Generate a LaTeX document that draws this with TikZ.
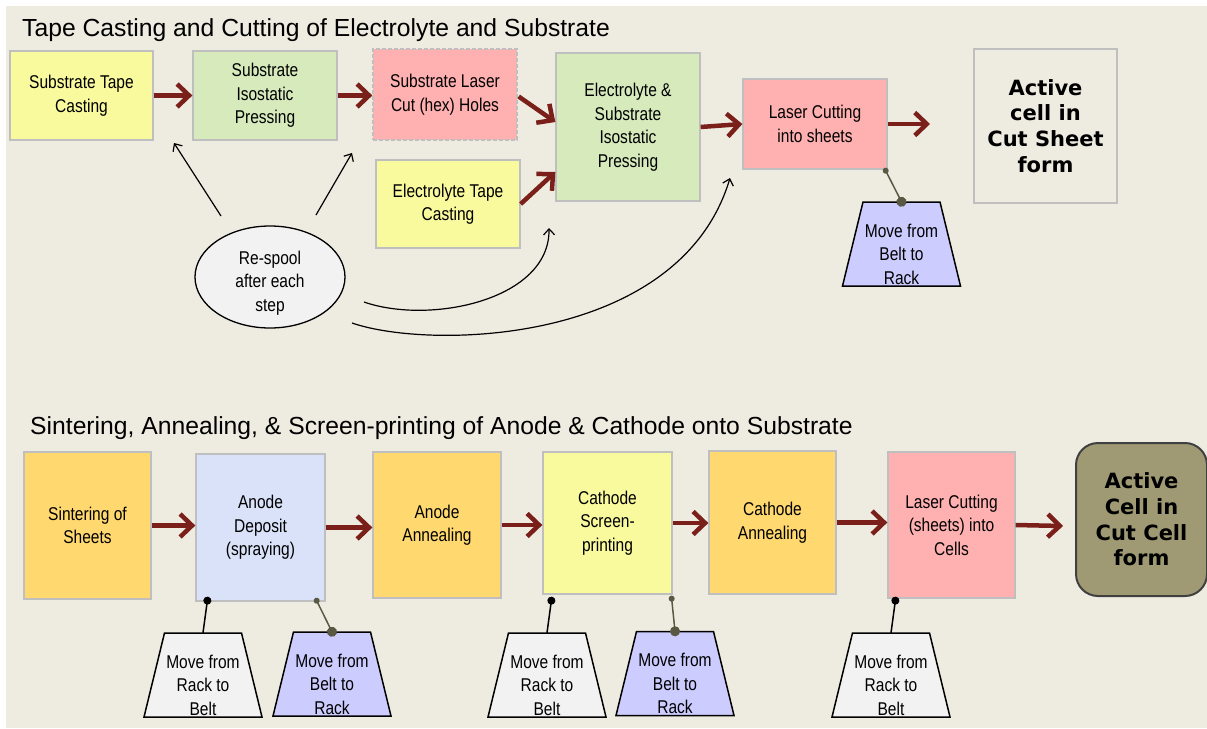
\documentclass[tikz,border=0pt]{standalone}
\usepackage{fontspec}
\setmainfont{Liberation Sans}
\newfontfamily\narrowfont{Liberation Sans}[FakeStretch=0.84]
\newfontfamily\heavyfont{DejaVu Sans}
\usetikzlibrary{arrows.meta,shapes.geometric,calc}
\definecolor{bg}{HTML}{EEECE1}
\definecolor{cyellow}{HTML}{F9F99E}
\definecolor{cgreen}{HTML}{D6EABC}
\definecolor{cpink}{HTML}{FFB0B0}
\definecolor{corange}{HTML}{FFD970}
\definecolor{cblue}{HTML}{DAE2F9}
\definecolor{clav}{HTML}{CCCCFF}
\definecolor{cwhite}{HTML}{F2F2F2}
\definecolor{colive}{HTML}{9F9A74}
\definecolor{boxgray}{HTML}{BFBFBF}
\definecolor{flowred}{HTML}{7B1F1A}
\definecolor{linkolive}{HTML}{595943}
\newcommand\shifted[2]{\raisebox{#1}[0pt][0pt]{\begin{tabular}{@{}c@{}}#2\end{tabular}}}
% trapezoid: name, position, fill colour, text
\newcommand\trapnode[4]{%
  \begin{scope}[shift={#2}]
    \filldraw[fill=#3, draw=black, line width=1.5pt, line join=miter]
      (-59,42) -- (-38.5,-42) -- (38.5,-42) -- (59,42) -- cycle;
  \end{scope}
  \node[traptext] (#1) at #2 {\shifted{-16.5pt}{#4}};}
\tikzset{
  box/.style={draw=boxgray, line width=1.3pt, align=center, inner sep=0pt,
    font=\narrowfont\fontsize{18.5}{23.5}\selectfont, text=black},
  boldbox/.style={box, font=\heavyfont\bfseries\fontsize{21}{25.7}\selectfont},
  traptext/.style={rectangle, minimum width=118pt, minimum height=84pt, inner sep=0pt,
    font=\narrowfont\fontsize{18.5}{23.5}\selectfont},
  flow/.style={draw=flowred, line width=4.5pt, -{Straight Barb[length=12pt,width=23pt]}},
  thinarr/.style={draw=black, line width=1.2pt, -{Straight Barb[length=6pt,width=11pt]}},
  linkdark/.style={draw=black, line width=1.5pt, {Circle[length=8pt]}-, shorten <=-4pt},
  linkol/.style={draw=linkolive, line width=1.5pt, {Circle[length=6pt]}-{Circle[length=10pt]},
    shorten <=-3pt, shorten >=-5pt},
  title/.style={anchor=base west, inner sep=0pt, font=\fontsize{24.7}{30}\selectfont}
}
\begin{document}
\begin{tikzpicture}[x=1pt,y=-1pt]
\useasboundingbox (0,0) rectangle (1207,728);
\fill[white] (0,0) rectangle (1207,728);
\fill[bg] (6,6) rectangle (1207,728);

% ---------- top section ----------
\node[title] (t1title) at (22,36) {Tape Casting and Cutting of Electrolyte and Substrate};

\node[box, fill=cyellow, minimum width=143pt, minimum height=89pt] (n1) at (81.5,95.5) {Substrate Tape\\Casting};
\node[box, fill=cgreen, minimum width=144pt, minimum height=89pt] (n2) at (265,95.5) {Substrate\\Isostatic\\Pressing};
\node[box, fill=cpink, dash pattern=on 4pt off 2pt, minimum width=144pt, minimum height=91pt] (n3) at (445,94.5) {Substrate Laser\\Cut (hex) Holes};
\node[box, fill=cyellow, minimum width=144pt, minimum height=88pt] (n4) at (448,204) {Electrolyte Tape\\Casting};
\node[box, fill=cgreen, minimum width=144pt, minimum height=148pt] (n5) at (628,127) {Electrolyte \&\\Substrate\\Isostatic\\Pressing};
\node[box, fill=cpink, minimum width=144pt, minimum height=90pt] (n6) at (815,124) {Laser Cutting\\into sheets};
\node[boldbox, fill=bg, minimum width=143pt, minimum height=154pt] (n7) at (1045.5,126) {Active\\cell in\\Cut Sheet\\form};
\trapnode{t0}{(901.5,244)}{clav}{Move from\\Belt to\\Rack}

\node[ellipse, draw=black, line width=1.3pt, fill=cwhite, minimum width=150pt, minimum height=102pt, inner sep=0pt,
  font=\narrowfont\fontsize{18.5}{23.5}\selectfont] (resp) at (270,277) {\shifted{-10.5pt}{Re-spool\\after each\\step}};

\draw[flow] (n1.east) -- (n1.east -| n2.west);
\draw[flow] (n2.east) -- (n2.east -| n3.west);
\draw[flow] ($(n3.east)+(1,2)$) -- ($(n5.west)+(0,-5)$);
\draw[flow] (n4.east) -- ($(n5.west)+(0,45)$);
\draw[flow] (n5.east) -- (n6.west);
\coordinate (out1) at (930,124);
\draw[flow] (n6.east) -- (out1);

\draw[linkol] ($(n6.south east)+(-2,1)$) -- (t0.north);

\coordinate (a1s) at (221,216);
\coordinate (a1e) at (174,143);
\coordinate (a2s) at (316,215);
\coordinate (a2e) at (352,153);
\coordinate (c1s) at (364,302);
\coordinate (c1e) at (549,228);
\coordinate (c2s) at (352,323);
\coordinate (c2e) at (730,178);
\draw[thinarr] (a1s) -- (a1e);
\draw[thinarr] (a2s) -- (a2e);
\draw[thinarr] (c1s) .. controls (430,325) and (550,300) .. (c1e);
\draw[thinarr] (c2s) .. controls (430,350) and (680,345) .. (c2e);

% ---------- bottom section ----------
\node[title] (t2title) at (30,434) {Sintering, Annealing, \& Screen-printing of Anode \& Cathode onto Substrate};

\node[box, fill=corange, minimum width=127pt, minimum height=147pt] (b1) at (87.5,525.5) {Sintering of\\Sheets};
\node[box, fill=cblue, minimum width=129pt, minimum height=147pt] (b2) at (260.5,527.5) {Anode\\Deposit\\(spraying)};
\node[box, fill=corange, minimum width=128pt, minimum height=146pt] (b3) at (437,525) {Anode\\Annealing};
\node[box, fill=cyellow, minimum width=129pt, minimum height=142pt] (b4) at (607.5,523) {Cathode\\Screen-\\printing};
\node[box, fill=corange, minimum width=127pt, minimum height=143pt] (b5) at (772.5,522.5) {Cathode\\Annealing};
\node[box, fill=cpink, minimum width=127pt, minimum height=146pt] (b6) at (951.5,525) {Laser Cutting\\(sheets) into\\Cells};
\node[boldbox, draw=black!75, line width=2pt, rounded corners=22pt, fill=colive, minimum width=131pt, minimum height=153pt] (b7) at (1141.5,519.5) {Active\\Cell in\\Cut Cell\\form};

\draw[flow] (b1.east) -- (b1.east -| b2.west);
\draw[flow] (b2.east) -- (b2.east -| b3.west);
\draw[flow] (b3.east) -- (b3.east -| b4.west);
\draw[flow] (b4.east) -- (b4.east -| b5.west);
\draw[flow] (b5.east) -- (b5.east -| b6.west);
\coordinate (out2) at (1063,526);
\draw[flow] (b6.east) -- (out2);

\trapnode{tr1}{(203,675)}{cwhite}{Move from\\Rack to\\Belt}
\trapnode{tr2}{(332,674)}{clav}{Move from\\Belt to\\Rack}
\trapnode{tr3}{(547,675)}{cwhite}{Move from\\Rack to\\Belt}
\trapnode{tr4}{(675,673.5)}{clav}{Move from\\Belt to\\Rack}
\trapnode{tr5}{(891,675)}{cwhite}{Move from\\Rack to\\Belt}

\draw[linkdark] ($(b2.south west)+(12,-1)$) -- (tr1.north);
\draw[linkol] ($(b2.south east)+(-9,-1)$) -- (tr2.north);
\draw[linkdark] ($(b4.south west)+(9,6)$) -- (tr3.north);
\draw[linkol] ($(b4.south east)+(-1,4)$) -- (tr4.north);
\draw[linkdark] ($(b6.south west)+(8,2)$) -- (tr5.north);
\end{tikzpicture}
\end{document}
